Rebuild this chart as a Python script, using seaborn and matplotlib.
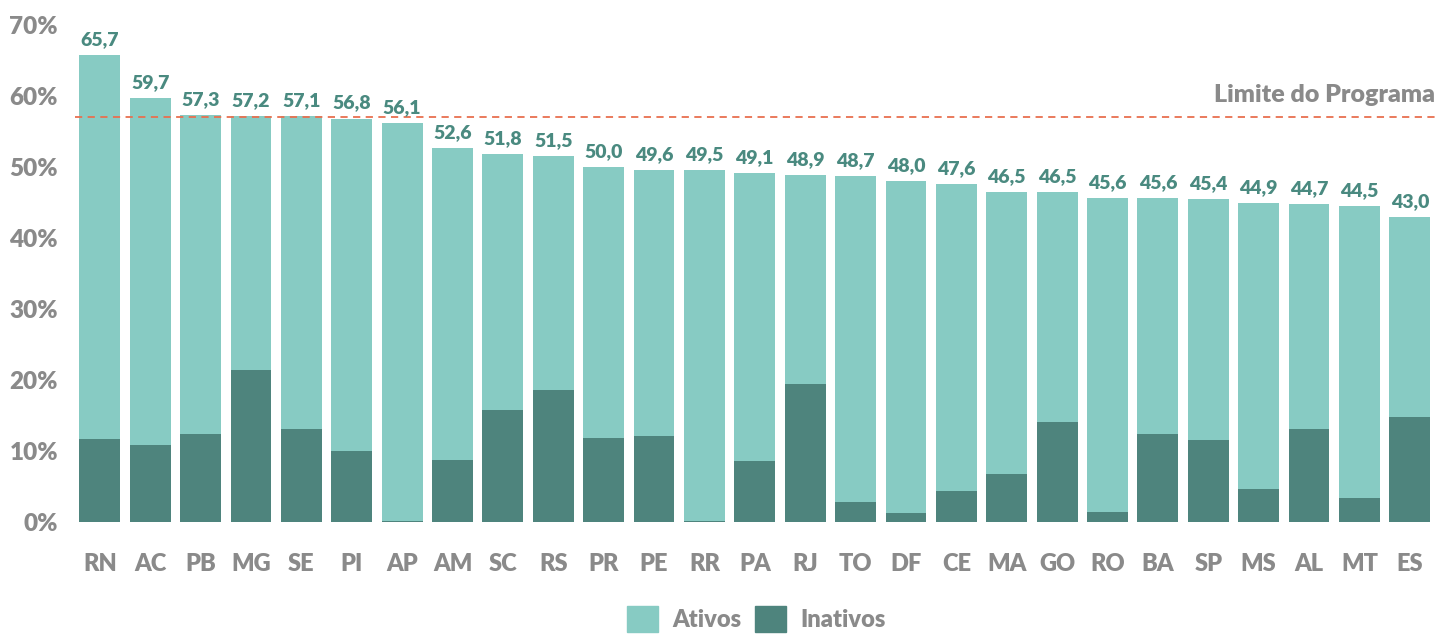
import numpy as np
import pandas as pd
import seaborn as sns
import matplotlib.pyplot as plt
from matplotlib.patches import Patch

# dados: percentual total (ativos + inativos) e parcela de inativos por UF
estados = ["RN", "AC", "PB", "MG", "SE", "PI", "AP", "AM", "SC", "RS", "PR", "PE", "RR", "PA",
           "RJ", "TO", "DF", "CE", "MA", "GO", "RO", "BA", "SP", "MS", "AL", "MT", "ES"]
total = [65.7, 59.7, 57.3, 57.2, 57.1, 56.8, 56.1, 52.6, 51.8, 51.5, 50.0, 49.6, 49.5, 49.1,
         48.9, 48.7, 48.0, 47.6, 46.5, 46.5, 45.6, 45.6, 45.4, 44.9, 44.7, 44.5, 43.0]
inativos = [11.7, 10.8, 12.4, 21.4, 13.1, 10.0, 0.2, 8.7, 15.8, 18.6, 11.8, 12.1, 0.2, 8.6,
            19.4, 2.8, 1.3, 4.4, 6.8, 14.1, 1.4, 12.4, 11.5, 4.6, 13.1, 3.4, 14.8]
limite = 57.0

cor_ativos = "#87cbc3"
cor_inativos = "#4e847d"
cinza = "#8a8a8a"

sns.set_theme(style="white")
plt.rcParams["font.family"] = ["Lato", "DejaVu Sans"]
plt.rcParams["font.weight"] = "heavy"

df = pd.DataFrame({"uf": estados, "total": total, "inativos": inativos})

fig = plt.figure(figsize=(14.35, 6.35), dpi=100)
ax = fig.add_axes([0.052, 0.178, 0.948, 0.783])

sns.barplot(data=df, x="uf", y="total", color=cor_ativos, width=0.81,
            saturation=1, ax=ax, linewidth=0)
sns.barplot(data=df, x="uf", y="inativos", color=cor_inativos, width=0.81,
            saturation=1, ax=ax, linewidth=0)

# rotulos dos valores totais
ax.bar_label(ax.containers[0], labels=[f"{v:.1f}".replace(".", ",") for v in total],
             padding=5, color="#4a8a80", fontsize=14, fontweight="heavy")

# linha do limite
ax.axhline(limite, color="#e8704f", linestyle=(0, (4, 3)), linewidth=1.3)
ax.text(1.0, limite + 1.6, "Limite do Programa", transform=ax.get_yaxis_transform(),
        ha="right", va="bottom", color=cinza, fontsize=18, fontweight="heavy")

ax.set_ylim(0, 70)
ax.set_xlim(-0.5, len(estados) - 0.5)
ax.set_yticks(np.arange(0, 71, 10))
ax.set_yticklabels([f"{v}%" for v in range(0, 71, 10)])
ax.set_xlabel("")
ax.set_ylabel("")
ax.tick_params(axis="x", length=0, pad=22, labelsize=17, labelcolor=cinza)
ax.tick_params(axis="y", length=0, pad=12, labelsize=17.5, labelcolor=cinza)
for lab in ax.get_xticklabels() + ax.get_yticklabels():
    lab.set_fontweight("heavy")
sns.despine(ax=ax, left=True, bottom=True)

handles = [Patch(color=cor_ativos, label="Ativos"), Patch(color=cor_inativos, label="Inativos")]
leg = fig.legend(handles=handles, loc="lower center", bbox_to_anchor=(0.527, -0.028), ncol=2,
                 frameon=False, fontsize=17, labelcolor=cinza, handlelength=1.3,
                 handleheight=1.3, columnspacing=0.6, handletextpad=0.6)
for t in leg.get_texts():
    t.set_fontweight("heavy")

fig.savefig("out.png", dpi=100)
